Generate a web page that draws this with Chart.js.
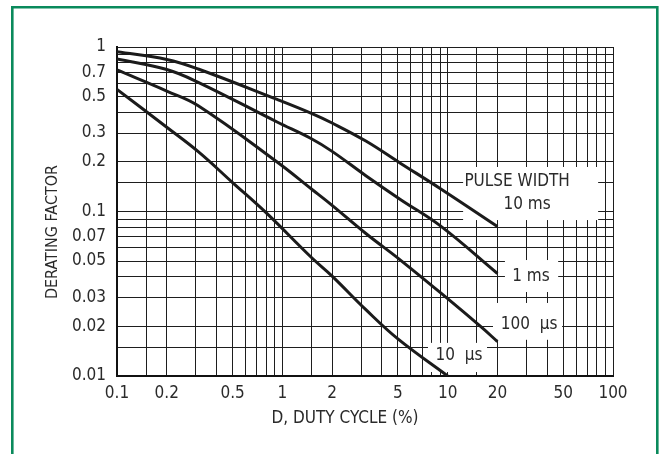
<!DOCTYPE html>
<html>
<head>
<meta charset="utf-8">
<title>Derating factor vs duty cycle</title>
<script src="https://cdn.jsdelivr.net/npm/chart.js@4.4.0/dist/chart.umd.min.js"></script>
<style>
  html, body { margin: 0; padding: 0; background: #fff; }
  #wrap { width: 662px; height: 454px; }
</style>
</head>
<body>
<div id="wrap"><canvas id="derating-chart" width="662" height="454"></canvas></div>
<script>
// Derating factor vs duty cycle, one curve per pulse width

const FONT = '"Liberation Sans Narrow", "DejaVu Sans Condensed", "Roboto", sans-serif';
const TEXT_COLOR = "#2a2a2a";
const GRID_COLOR = "#1e1e1e";
const CURVE_COLOR = "#1b1b1b";
const FRAME_GREEN = "#0a8a5c";

// axis texts
const xAxisTitle = "D, DUTY CYCLE (%)";
const yAxisTitle = "DERATING FACTOR";
const xTickLabels = ["0.1", "0.2", "0.5", "1", "2", "5", "10", "20", "50", "100"];
const yTickLabels = ["1", "0.7", "0.5", "0.3", "0.2", "0.1", "0.07", "0.05", "0.03", "0.02", "0.01"];

// curves (duty cycle in %, derating factor)
const pw10msDuty = [0.1, 0.2, 0.31, 0.93, 1.5, 2, 3.2, 5.2, 9, 20];
const pw10msFactor = [0.936, 0.84, 0.735, 0.48, 0.395, 0.345, 0.268, 0.196, 0.138, 0.081];

const pw1msDuty = [0.1, 0.2, 0.31, 0.93, 1.5, 2, 3.2, 5.2, 9, 20];
const pw1msFactor = [0.845, 0.73, 0.61, 0.35, 0.277, 0.232, 0.165, 0.118, 0.082, 0.042];

const pw100usDuty = [0.1, 0.2, 0.31, 0.93, 1.5, 2, 3.2, 5.2, 10, 16, 20];
const pw100usFactor = [0.725, 0.54, 0.44, 0.2, 0.137, 0.109, 0.0735, 0.0505, 0.0295, 0.0198, 0.0162];

const pw10usDuty = [0.1, 0.2, 0.31, 0.5, 0.8, 1.5, 2, 3.2, 5, 10];
const pw10usFactor = [0.553, 0.325, 0.231, 0.15, 0.098, 0.0525, 0.0405, 0.0253, 0.0168, 0.01];

// labels written inside the grid
const annotationLabels = ["PULSE WIDTH", "10 ms", "1 ms", "100  µs", "10  µs"];

// where they go (data units) and the white patches behind them
const annotationAnchors = [[26.3, 0.151], [30.2, 0.1095], [31.9, 0.040], [31.1, 0.0204], [11.7, 0.0134]];
const annotationBoxes = [
  { x0: 12.4, x1: 81.3, y0: 0.1865, y1: 0.0887 },
  { x0: 22.2, x1: 46.6, y0: 0.0507, y1: 0.0324 },
  { x0: 18.8, x1: 49.2, y0: 0.0278, y1: 0.0166 },
  { x0: 7.6, x1: 17.3, y0: 0.0159, y1: 0.01057 },
];

// grid lines: 1, 1.5, 2 ... 9 in every decade
function decadeLines(from, to) {
  const mult = [1, 1.5, 2, 3, 4, 5, 6, 7, 8, 9];
  const out = [];
  for (let e = from; e < to; e++) {
    mult.forEach((m) => out.push(parseFloat((m * Math.pow(10, e)).toPrecision(6))));
  }
  out.push(parseFloat(Math.pow(10, to).toPrecision(6)));
  return out;
}
const xGridValues = decadeLines(-1, 2);
const yGridValues = decadeLines(-2, 0);

function labelFor(list, v) {
  const hit = list.find((t) => Math.abs(Number(t) - v) / Number(t) < 1e-6);
  return hit || "";
}

function toPoints(xs, ys) {
  return xs.map((x, i) => ({ x, y: ys[i] }));
}

function curve(label, xs, ys) {
  return {
    label,
    data: toPoints(xs, ys),
    showLine: true,
    borderColor: CURVE_COLOR,
    borderWidth: 3,
    pointRadius: 0,
    fill: false,
    tension: 0.4,
  };
}

const decorPlugin = {
  id: "decor",
  beforeDraw(chart) {
    const { ctx, width, height } = chart;
    ctx.save();
    ctx.fillStyle = "#fff";
    ctx.fillRect(0, 0, width, height);
    // green frame, open at the bottom
    ctx.strokeStyle = FRAME_GREEN;
    ctx.lineWidth = 2.6;
    ctx.beginPath();
    ctx.moveTo(12.3, height + 5);
    ctx.lineTo(12.3, 7.3);
    ctx.lineTo(657.3, 7.3);
    ctx.lineTo(657.3, height + 5);
    ctx.stroke();
    ctx.restore();
  },
  beforeDatasetsDraw(chart) {
    const { ctx } = chart;
    const { x, y } = chart.scales;
    ctx.save();
    ctx.fillStyle = "#fff";
    annotationBoxes.forEach((b) => {
      const l = x.getPixelForValue(b.x0);
      const r = x.getPixelForValue(b.x1);
      const t = y.getPixelForValue(b.y0);
      const bt = y.getPixelForValue(b.y1);
      ctx.fillRect(l, t, r - l, bt - t);
    });
    ctx.fillStyle = TEXT_COLOR;
    ctx.font = `17px ${FONT}`;
    ctx.textAlign = "center";
    ctx.textBaseline = "middle";
    annotationLabels.forEach((txt, i) => {
      const p = annotationAnchors[i];
      ctx.fillText(txt, x.getPixelForValue(p[0]), y.getPixelForValue(p[1]));
    });
    ctx.restore();
  },
  afterDraw(chart) {
    const { ctx } = chart;
    ctx.save();
    ctx.fillStyle = TEXT_COLOR;
    ctx.textAlign = "center";
    ctx.textBaseline = "alphabetic";
    ctx.font = `17px ${FONT}`;
    ctx.fillText(xAxisTitle, 345, 423);
    ctx.font = `16px ${FONT}`;
    ctx.translate(57, 232);
    ctx.rotate(-Math.PI / 2);
    ctx.fillText(yAxisTitle, 0, 0);
    ctx.restore();
  },
};

const canvas = document.getElementById("derating-chart");

new Chart(canvas, {
  type: "scatter",
  data: {
    datasets: [
      curve("10 ms", pw10msDuty, pw10msFactor),
      curve("1 ms", pw1msDuty, pw1msFactor),
      curve("100 µs", pw100usDuty, pw100usFactor),
      curve("10 µs", pw10usDuty, pw10usFactor),
    ],
  },
  options: {
    responsive: false,
    animation: false,
    devicePixelRatio: 1,
    layout: { padding: { left: 0, top: 47, right: 49, bottom: 0 } },
    plugins: {
      legend: { display: false },
      tooltip: { enabled: false },
    },
    scales: {
      x: {
        type: "logarithmic",
        position: "bottom",
        min: 0.1,
        max: 100,
        afterBuildTicks: (scale) => {
          scale.ticks = xGridValues.map((v) => ({ value: v }));
        },
        afterFit: (scale) => {
          scale.height = 78;
        },
        ticks: {
          autoSkip: false,
          maxRotation: 0,
          padding: 7,
          color: TEXT_COLOR,
          font: { family: FONT, size: 17 },
          callback: (v) => labelFor(xTickLabels, v),
        },
        grid: { color: GRID_COLOR, lineWidth: 1, drawTicks: false },
        border: { display: true, color: "#111", width: 2 },
      },
      y: {
        type: "logarithmic",
        min: 0.01,
        max: 1,
        afterBuildTicks: (scale) => {
          scale.ticks = yGridValues.map((v) => ({ value: v }));
        },
        afterFit: (scale) => {
          scale.width = 117;
        },
        ticks: {
          autoSkip: false,
          padding: 11,
          color: TEXT_COLOR,
          font: { family: FONT, size: 17 },
          callback: (v) => labelFor(yTickLabels, v),
        },
        grid: { color: GRID_COLOR, lineWidth: 1, drawTicks: false },
        border: { display: true, color: "#111", width: 2 },
      },
    },
  },
  plugins: [decorPlugin],
});
</script>
</body>
</html>
